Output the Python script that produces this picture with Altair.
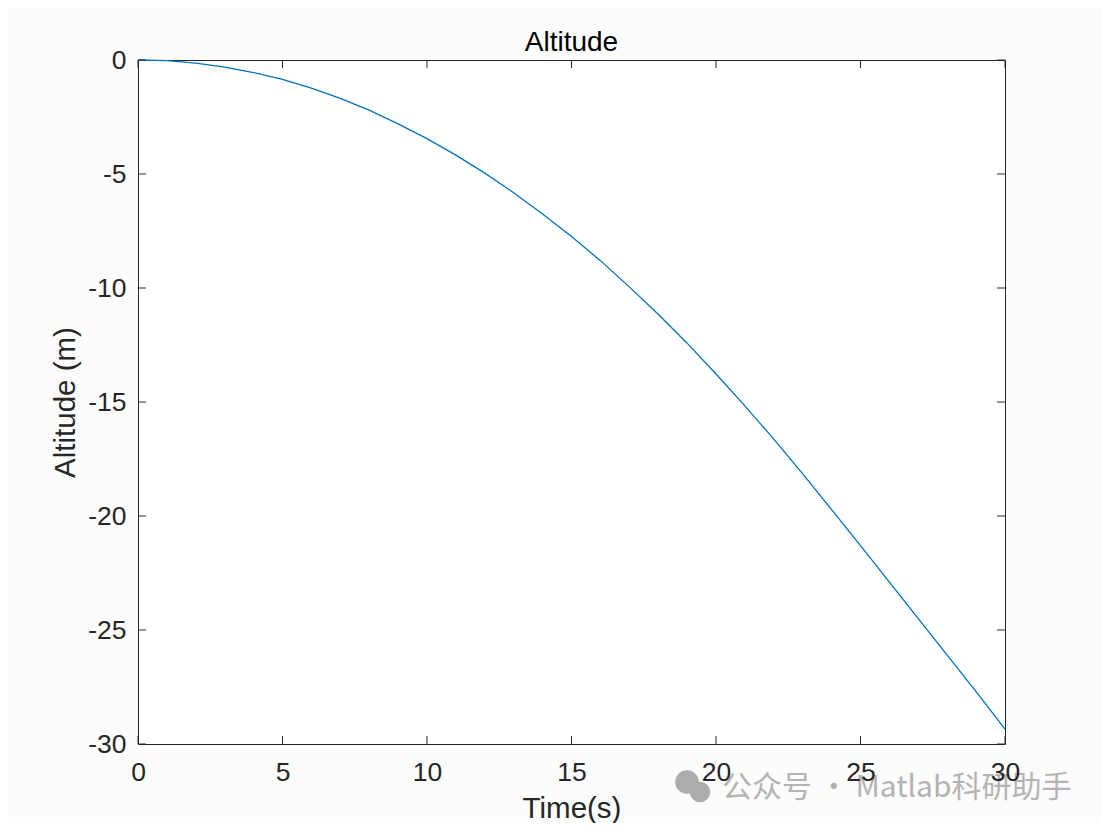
import altair as alt
import pandas as pd

# Data
time_s = list(range(0, 31))
altitude_m = [0.0, -0.03, -0.14, -0.31, -0.55, -0.85, -1.23, -1.68, -2.2, -2.8,
              -3.45, -4.17, -4.96, -5.82, -6.75, -7.74, -8.8, -9.95, -11.15, -12.42,
              -13.77, -15.17, -16.63, -18.15, -19.72, -21.3, -22.9, -24.5, -26.1, -27.7,
              -29.35]
x_ticks = [0, 5, 10, 15, 20, 25, 30]
y_ticks = [0, -5, -10, -15, -20, -25, -30]
chart_title = "Altitude"
x_title = "Time(s)"
y_title = "Altitude (m)"
watermark = "公众号 · Matlab科研助手"

df = pd.DataFrame({"t": time_s, "alt": altitude_m})
xt = pd.DataFrame({"t": x_ticks})
yt = pd.DataFrame({"alt": y_ticks})

W, H = 867, 684
FONT = "Liberation Sans"
AX = "#262626"

xscale = alt.Scale(domain=[0, 30], nice=False, zero=False)
yscale = alt.Scale(domain=[-30, 0], nice=False, zero=False)

fix_minus = "replace(datum.label, '\u2212', '-')"

x_axis = alt.Axis(values=x_ticks, ticks=False, domain=False, grid=False,
                  labelFont=FONT, labelFontSize=26.5, labelColor=AX,
                  labelPadding=15, labelExpr=fix_minus, labelFlush=False,
                  titleFont=FONT, titleFontSize=29.5, titleFontWeight="normal",
                  titleColor=AX, titlePadding=9, zindex=1)
y_axis = alt.Axis(values=y_ticks, ticks=False, domain=False, grid=False,
                  labelFont=FONT, labelFontSize=26.5, labelColor=AX,
                  labelPadding=12, labelExpr=fix_minus, labelFlush=False,
                  titleFont=FONT, titleFontSize=29.5, titleFontWeight="normal",
                  titleColor=AX, titlePadding=7, zindex=1)


def X():
    return alt.X("t:Q", scale=xscale, title=x_title, axis=x_axis)


def Y():
    return alt.Y("alt:Q", scale=yscale, title=y_title, axis=y_axis)


line = alt.Chart(df).mark_line(color="#0072BD", strokeWidth=1.3).encode(x=X(), y=Y())

tick_len = 8
bottom_ticks = alt.Chart(xt).mark_rule(color=AX, strokeWidth=1).encode(
    x=X(), y=alt.value(H), y2=alt.value(H - tick_len))
top_ticks = alt.Chart(xt).mark_rule(color=AX, strokeWidth=1).encode(
    x=X(), y=alt.value(0), y2=alt.value(tick_len))
left_ticks = alt.Chart(yt).mark_rule(color=AX, strokeWidth=1).encode(
    y=Y(), x=alt.value(0), x2=alt.value(tick_len))
right_ticks = alt.Chart(yt).mark_rule(color=AX, strokeWidth=1).encode(
    y=Y(), x=alt.value(W), x2=alt.value(W - tick_len))

# title as text above the plot area
title_df = pd.DataFrame({"txt": [chart_title]})
title = alt.Chart(title_df).mark_text(
    font=FONT, fontSize=28, color="#000000", align="center", baseline="alphabetic").encode(
    text="txt:N", x=alt.value(W / 2), y=alt.value(-9))

# watermark
wm_df = pd.DataFrame({"txt": [watermark]})
wm_text = alt.Chart(wm_df).mark_text(
    font="Noto Sans CJK SC", fontSize=30, color="#acacac", opacity=0.9,
    align="left", baseline="middle").encode(
    text="txt:N", x=alt.value(584), y=alt.value(728))
icon_df = pd.DataFrame({"k": ["a", "b"], "px": [549, 562], "py": [722, 732], "s": [560, 420]})
wm_icon = alt.Chart(icon_df).mark_circle(color="#acacac", opacity=1).encode(
    x=alt.X("px:Q", scale=None), y=alt.Y("py:Q", scale=None),
    size=alt.Size("s:Q", scale=None, legend=None))

chart = alt.layer(line, bottom_ticks, top_ticks, left_ticks, right_ticks,
                  title, wm_icon, wm_text).properties(
    width=W, height=H,
    autosize=alt.AutoSizeParams(type="none"),
    padding={"left": 130, "top": 52, "right": 97, "bottom": 79},
    background="#fcfcfc",
).configure_view(stroke=AX, strokeWidth=1, fill="#ffffff")

chart.save("out.html", embed_options={"renderer": "svg", "actions": False})
